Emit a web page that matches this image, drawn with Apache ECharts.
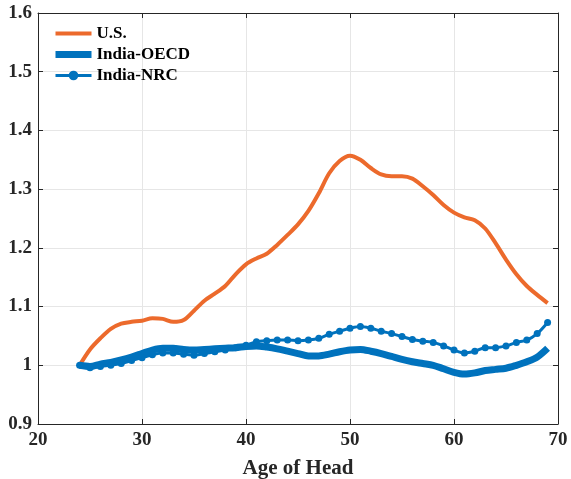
<!DOCTYPE html>
<html>
<head>
<meta charset="utf-8">
<script src="https://cdn.jsdelivr.net/npm/echarts@6/dist/echarts.min.js"></script>
<style>
  html, body { margin: 0; padding: 0; background: #fff; }
  #chart { width: 571px; height: 479px; }
</style>
</head>
<body>
<div id="chart"></div>
<script>
// age of household head
const ages = [24, 25, 26, 27, 28, 29, 30, 31, 32, 33, 34, 35, 36, 37, 38, 39, 40, 41, 42, 43, 44, 45, 46,
  47, 48, 49, 50, 51, 52, 53, 54, 55, 56, 57, 58, 59, 60, 61, 62, 63, 64, 65, 66, 67, 68, 69];

const us = [1.000, 1.027, 1.046, 1.062, 1.071, 1.074, 1.076, 1.080, 1.079, 1.074, 1.077, 1.093, 1.110,
  1.122, 1.135, 1.155, 1.172, 1.182, 1.190, 1.205, 1.222, 1.240, 1.263, 1.293, 1.327, 1.348, 1.357,
  1.350, 1.336, 1.325, 1.322, 1.322, 1.318, 1.305, 1.290, 1.273, 1.260, 1.252, 1.247, 1.233, 1.208,
  1.180, 1.155, 1.135, 1.120, 1.106];

const indiaOecd = [1.000, 0.998, 1.002, 1.005, 1.009, 1.014, 1.020, 1.026, 1.029, 1.029, 1.027, 1.026,
  1.027, 1.028, 1.029, 1.030, 1.032, 1.033, 1.031, 1.028, 1.024, 1.020, 1.016, 1.016, 1.019, 1.023,
  1.026, 1.027, 1.024, 1.020, 1.015, 1.010, 1.006, 1.003, 1.000, 0.994, 0.988, 0.985, 0.987, 0.991,
  0.993, 0.995, 1.000, 1.006, 1.014, 1.029];

const indiaNrc = [1.000, 0.996, 0.998, 1.000, 1.003, 1.008, 1.013, 1.018, 1.021, 1.021, 1.019, 1.017,
  1.020, 1.023, 1.026, 1.030, 1.034, 1.040, 1.042, 1.043, 1.043, 1.042, 1.043, 1.046, 1.053, 1.058,
  1.063, 1.066, 1.063, 1.058, 1.054, 1.049, 1.044, 1.041, 1.039, 1.033, 1.026, 1.021, 1.024, 1.030,
  1.030, 1.033, 1.039, 1.043, 1.054, 1.073];

const font = "'Liberation Serif', 'Times New Roman', serif";
const ink = '#262626';
const orange = '#EC6A2C';
const blue = '#0072BD';

const pairs = (ys) => ages.map((a, i) => [a, ys[i]]);

const chart = echarts.init(document.getElementById('chart'));

const hiddenAxis = {
  axisLine: { show: true, lineStyle: { color: ink, width: 1 } },
  axisTick: { show: true, inside: true, length: 5, lineStyle: { color: ink } },
  axisLabel: { show: false },
  splitLine: { show: false }
};

// legend entries for plain lines: hide the marker, keep the stroke
const noMarker = { color: 'rgba(0,0,0,0)', borderWidth: 0, opacity: 0 };

chart.setOption({
  animation: false,
  grid: { left: 38, right: 13, top: 13, bottom: 55, outerBoundsMode: 'none' },
  legend: {
    left: 52,
    top: 25,
    padding: 0,
    orient: 'vertical',
    itemGap: 4,
    itemWidth: 36,
    itemHeight: 12,
    textStyle: { fontFamily: font, fontWeight: 'bold', fontSize: 17, color: '#000' },
    data: [
      { name: 'U.S.', itemStyle: noMarker, lineStyle: { width: 4 } },
      { name: 'India-OECD', itemStyle: noMarker, lineStyle: { width: 7 } },
      { name: 'India-NRC', lineStyle: { width: 3 } }
    ]
  },
  xAxis: [
    {
      type: 'value', min: 20, max: 70, interval: 10,
      name: 'Age of Head', nameLocation: 'middle', nameGap: 34,
      nameTextStyle: { fontFamily: font, fontWeight: 'bold', fontSize: 21, color: ink },
      axisLine: { lineStyle: { color: ink, width: 1 } },
      axisTick: { inside: true, length: 5, lineStyle: { color: ink } },
      axisLabel: { fontFamily: font, fontWeight: 'bold', fontSize: 19, color: ink, margin: 7 },
      splitLine: { show: true, lineStyle: { color: '#e6e6e6', width: 1 } }
    },
    Object.assign({ type: 'value', position: 'top', min: 20, max: 70, interval: 10 }, hiddenAxis)
  ],
  yAxis: [
    {
      type: 'value', min: 0.9, max: 1.6, interval: 0.1,
      axisLine: { show: true, lineStyle: { color: ink, width: 1 } },
      axisTick: { show: true, inside: true, length: 5, lineStyle: { color: ink } },
      axisLabel: {
        fontFamily: font, fontWeight: 'bold', fontSize: 19, color: ink, margin: 6,
        formatter: (v) => (Math.abs(v - 1) < 1e-9 ? '1' : v.toFixed(1))
      },
      splitLine: { show: true, lineStyle: { color: '#e6e6e6', width: 1 } }
    },
    Object.assign({ type: 'value', position: 'right', min: 0.9, max: 1.6, interval: 0.1 }, hiddenAxis)
  ],
  series: [
    {
      name: 'U.S.', type: 'line', data: pairs(us), smooth: 0.3,
      showSymbol: false, symbol: 'none',
      lineStyle: { color: orange, width: 4 }, itemStyle: { color: orange }
    },
    {
      name: 'India-OECD', type: 'line', data: pairs(indiaOecd), smooth: 0.3,
      showSymbol: false, symbol: 'none',
      lineStyle: { color: blue, width: 7 }, itemStyle: { color: blue }
    },
    {
      name: 'India-NRC', type: 'line', data: pairs(indiaNrc), smooth: 0.3,
      symbol: 'circle', symbolSize: 7,
      lineStyle: { color: blue, width: 3 }, itemStyle: { color: blue }
    }
  ]
});

window.addEventListener('resize', () => chart.resize());
</script>
</body>
</html>
